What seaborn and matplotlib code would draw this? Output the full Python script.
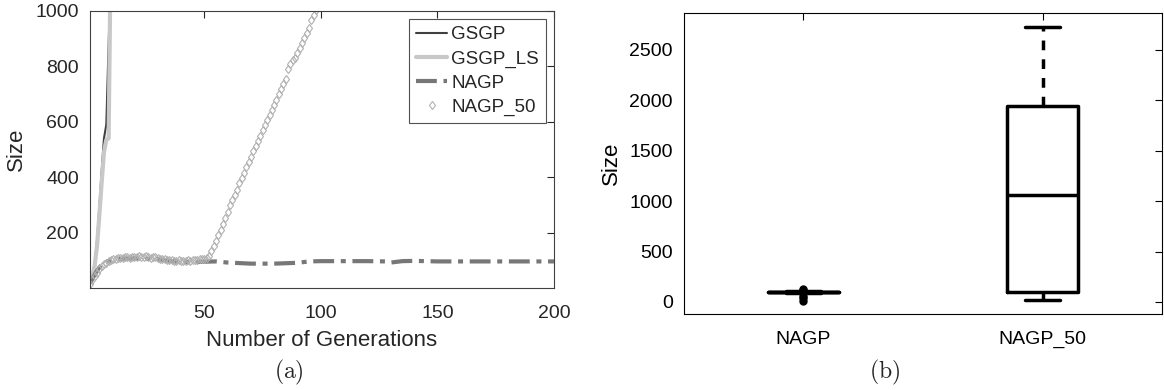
import numpy as np
import pandas as pd
import matplotlib
matplotlib.use("Agg")
import matplotlib.pyplot as plt
import seaborn as sns

# (a) average program size per generation
gsgp_gen = [1, 2, 3, 4, 5, 6, 7, 8, 9, 10]
gsgp_size = [20, 45, 90, 170, 290, 420, 540, 590, 880, 1150]

gsgp_ls_gen = [1, 2, 3, 4, 5, 6, 7, 8, 9, 10]
gsgp_ls_size = [20, 40, 80, 150, 260, 380, 490, 535, 540, 1300]

nagp_gen = [1, 2, 3, 4, 5, 6, 7, 8, 10, 12, 15, 20, 25, 30, 35, 40, 45, 50,
            55, 60, 70, 80, 90, 95, 100, 110, 120, 128, 130, 135, 140, 150,
            160, 170, 180, 190, 200]
nagp_size = [18, 32, 48, 62, 74, 83, 90, 95, 100, 104, 106, 107, 106, 104,
             98, 94, 93, 95, 96, 92, 88, 88, 91, 96, 97, 97, 97, 96, 92, 97,
             98, 96, 96, 96, 96, 96, 96]

nagp50_gen = list(range(1, 99))
nagp50_size = [16, 28, 42, 56, 68, 78, 86, 92, 97, 100,
               104, 106, 108, 110, 109, 111, 112, 110, 113, 111,
               112, 114, 111, 113, 115, 112, 110, 113, 111, 108,
               106, 104, 105, 102, 100, 101, 99, 98, 100, 99,
               97, 99, 100, 98, 101, 102, 100, 103, 104, 106,
               108, 114, 132, 152, 170, 192, 210, 232, 251, 275,
               298, 318, 337, 355, 378, 396, 415, 436, 455, 472,
               493, 512, 530, 549, 570, 588, 606, 625, 643, 662,
               680, 700, 718, 736, 755, 790, 810, 824, 832, 850,
               868, 885, 902, 922, 940, 968, 985, 1005]

# (b) final size over runs
methods = ["NAGP", "NAGP_50"]
nagp_runs = [10, 35, 60, 94, 95, 96, 97, 98, 99, 99, 100, 101, 102, 103,
             104, 105, 120, 125]
nagp50_runs = [20, 60, 102, 500, 1061, 1500, 1944, 2300, 2731]

sns.set_style("white")
plt.rcParams["font.family"] = ["Liberation Sans", "DejaVu Sans"]
plt.rcParams["mathtext.fontset"] = "cm"

fig = plt.figure(figsize=(11.64, 3.9), dpi=100)
ax1 = fig.add_axes([0.0773, 0.2615, 0.3986, 0.7103])
ax2 = fig.add_axes([0.5876, 0.1949, 0.4107, 0.7718])

dark = "#262626"

# left panel
sns.lineplot(x=gsgp_gen, y=gsgp_size, ax=ax1, color="#404040", lw=1.5,
             label="GSGP")
sns.lineplot(x=gsgp_ls_gen, y=gsgp_ls_size, ax=ax1, color="#c8c8c8", lw=3,
             label="GSGP_LS")
sns.lineplot(x=nagp_gen, y=nagp_size, ax=ax1, color="#777777", lw=3,
             linestyle=(0, (5, 1.6, 1.2, 1.6)), label="NAGP")
sns.lineplot(x=nagp50_gen, y=nagp50_size, ax=ax1, color="#b0b0b0",
             linestyle="none", marker="d", markersize=4.5,
             markerfacecolor="none", markeredgecolor="#b0b0b0",
             markeredgewidth=0.8, label="NAGP_50")

ax1.set_xlim(1, 200)
ax1.set_ylim(0, 1000)
ax1.set_xticks([50, 100, 150, 200])
ax1.set_yticks([200, 400, 600, 800, 1000])
ax1.set_xlabel("Number of Generations", fontsize=16, color=dark, labelpad=6)
ax1.set_ylabel("Size", fontsize=16, color=dark, labelpad=6)
ax1.tick_params(direction="in", top=True, right=True, length=5, width=0.8,
                labelsize=14, colors=dark, pad=8)
ax1.tick_params(axis="x", pad=12)
for s in ax1.spines.values():
    s.set_color("#404040")
    s.set_linewidth(0.8)
leg = ax1.legend(loc="upper right", fontsize=13.5, handlelength=1.7,
                 handletextpad=0.2, borderaxespad=0.45, labelspacing=0.38,
                 fancybox=False, frameon=True, borderpad=0.35)
leg.get_frame().set_edgecolor("#262626")
leg.get_frame().set_linewidth(0.8)
for t in leg.get_texts():
    t.set_color(dark)

# right panel
df = pd.DataFrame({
    "method": ["NAGP"] * len(nagp_runs) + ["NAGP_50"] * len(nagp50_runs),
    "size": nagp_runs + nagp50_runs,
})
sns.boxplot(data=df, x="method", y="size", order=methods, ax=ax2,
            fill=False, color="k", linecolor="k", width=0.3, linewidth=2.5,
            whiskerprops=dict(linestyle=(0, (2.8, 2.6))),
            flierprops=dict(marker="o", markerfacecolor="k",
                            markeredgecolor="k", markersize=5))
ax2.set_xlim(-0.5, 1.5)
ax2.set_ylim(-119, 2867)
ax2.set_yticks([0, 500, 1000, 1500, 2000, 2500])
ax2.set_xlabel("")
ax2.set_ylabel("Size", fontsize=16, color="k", labelpad=5)
ax2.tick_params(direction="in", top=True, right=True, length=5, width=0.8,
                labelsize=14, colors="k", pad=8)
ax2.tick_params(axis="x", pad=12)
for s in ax2.spines.values():
    s.set_color("k")
    s.set_linewidth(0.8)
    s.set_visible(True)

fig.text(289 / 1164, 1 - 372 / 390, r"$\mathrm{(a)}$", fontsize=17,
         ha="center", va="center")
fig.text(885 / 1164, 1 - 372 / 390, r"$\mathrm{(b)}$", fontsize=17,
         ha="center", va="center")

fig.savefig("out.png", dpi=100)
